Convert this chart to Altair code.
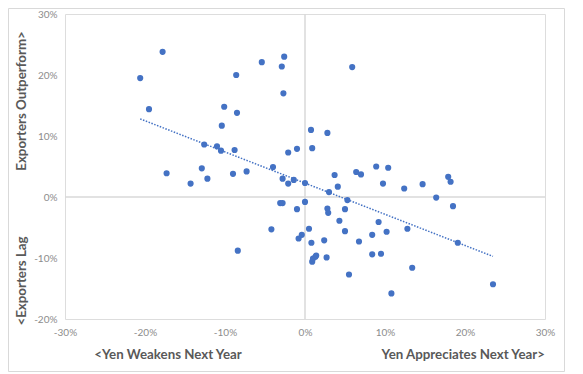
import altair as alt
import pandas as pd

yen_change = [
    -20.6, -17.8, -19.5, -17.3, -14.3, -12.9, -12.2, -12.6, -11.0, -10.5,
    -10.4, -10.1, -8.6, -8.5, -8.8, -9.0, -7.3, -8.4, -5.4, -2.9,
    -2.6, -2.7, -4.0, -4.2, -2.8, -2.1, -1.4, -2.1, -1.0, 0.0,
    -3.1, -2.8, 0.0, -1.0, -0.8, -0.4, 0.5, 0.8, 0.9, 1.0,
    1.3, 1.4, 0.75, 0.9, 2.8, 3.7, 4.1, 3.0, 2.8, 2.9,
    2.4, 2.7, 4.3, 5.0, 5.3, 5.0, 5.5, 5.9, 6.4, 7.0,
    6.75, 8.9, 10.4, 9.75, 9.2, 8.4, 10.2, 8.4, 9.5, 10.8,
    12.4, 12.8, 13.4, 14.7, 16.4, 17.9, 18.2, 18.5, 19.1, 23.5,
]
exporter_rel = [
    19.5, 23.8, 14.4, 3.9, 2.2, 4.7, 3.0, 8.6, 8.3, 7.6,
    11.7, 14.8, 20.0, 13.8, 7.7, 3.8, 4.2, -8.8, 22.1, 21.4,
    23.0, 17.0, 4.9, -5.3, 3.0, 2.2, 2.8, 7.3, 7.9, 2.3,
    -1.0, -1.0, -0.8, -2.0, -6.8, -6.2, -5.2, -7.5, -10.6, -10.1,
    -9.8, -9.6, 11.0, 8.0, 10.5, 3.6, 1.7, 0.8, -1.9, -2.6,
    -7.1, -9.9, -3.9, -2.0, -0.5, -5.6, -12.7, 21.3, 4.1, 3.7,
    -7.3, 5.0, 4.8, 2.2, -4.1, -6.2, -5.7, -9.4, -9.3, -15.8,
    1.4, -5.2, -11.6, 2.1, -0.1, 3.3, 2.5, -1.5, -7.5, -14.3,
]

x_ticks = [-30, -20, -10, 0, 10, 20, 30]
y_ticks = [-20, -10, 0, 10, 20, 30]

df = pd.DataFrame({"x": [v / 100 for v in yen_change],
                   "y": [v / 100 for v in exporter_rel]})

W, H = 480, 305
blue = "#4472C4"
grey_txt = "#595959"
tick_txt = "#8c8c8c"
font = "Lato"
label_expr = "replace(format(datum.value, '.0%'), '\u2212', '-')"

xs = alt.Scale(domain=[-0.3, 0.3], nice=False)
ys = alt.Scale(domain=[-0.2, 0.3], nice=False)

x_axis = alt.Axis(values=[v / 100 for v in x_ticks], labelExpr=label_expr, grid=False,
                  domain=False, ticks=False, labelColor=tick_txt, labelFont=font,
                  labelFontSize=10, labelPadding=8, labelFlush=False,
                  labelOverlap=False, title=None)
y_axis = alt.Axis(values=[v / 100 for v in y_ticks], labelExpr=label_expr, grid=False,
                  domain=False, ticks=False, labelColor=tick_txt, labelFont=font,
                  labelFontSize=10, labelPadding=8, labelFlush=False,
                  labelOverlap=False, title=None)

base = alt.Chart(df)

points = base.mark_circle(size=38, color=blue, opacity=1).encode(
    x=alt.X("x:Q", scale=xs, axis=x_axis),
    y=alt.Y("y:Q", scale=ys, axis=y_axis),
)

trend = base.transform_regression("x", "y").mark_line(
    color=blue, strokeWidth=1.5, strokeDash=[1.5, 1.5]
).encode(x=alt.X("x:Q", scale=xs), y=alt.Y("y:Q", scale=ys))

zero_df = pd.DataFrame({"v": [0.0]})
hzero = alt.Chart(zero_df).mark_rule(color="#d9d9d9", strokeWidth=1.5).encode(
    y=alt.Y("v:Q", scale=ys))
vzero = alt.Chart(zero_df).mark_rule(color="#d9d9d9", strokeWidth=1.5).encode(
    x=alt.X("v:Q", scale=xs))

lab_df = pd.DataFrame({"t": [0]})


def label(text, x, y, angle=0, align="center"):
    return alt.Chart(lab_df).mark_text(
        text=text, font=font, fontSize=13.3, fontWeight="bold", color=grey_txt,
        angle=angle, align=align, baseline="middle"
    ).encode(x=alt.value(x), y=alt.value(y))


titles = (
    label("<Yen Weakens Next Year", 103, 341)
    + label("Yen Appreciates Next Year>", 480, 341, align="right")
    + label("Exporters Outperform>", -43, 87, angle=270)
    + label("<Exporters Lag", -43, 267, angle=270)
)

border = alt.Chart(lab_df).mark_rect(
    fill=None, stroke="#d9d9d9", strokeWidth=1
).encode(x=alt.value(-56.5), x2=alt.value(499.5), y=alt.value(-5.5), y2=alt.value(357.5))

chart = alt.layer(border, hzero, vzero, trend, points, titles).properties(
    width=W, height=H,
    autosize=alt.AutoSizeParams(type="none"),
    padding={"left": 57, "top": 6, "right": 20, "bottom": 53},
).configure_view(stroke=None).configure(background="white")

chart.save("out.html", embed_options={"renderer": "svg", "actions": False})
